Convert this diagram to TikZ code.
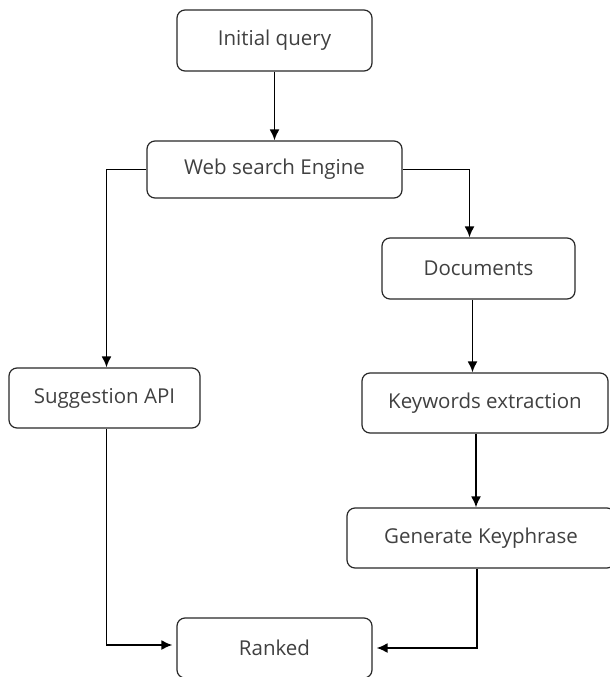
\documentclass[tikz,border=0pt]{standalone}
\usepackage{fontspec}
\setmainfont{Open Sans}
\definecolor{flowtext}{RGB}{64,64,64}
\definecolor{flowline}{RGB}{40,40,40}
\usetikzlibrary{shapes,arrows,arrows.meta,positioning,calc}

\begin{document}
\begin{tikzpicture}[x=1pt, y=-1pt,
    box/.style={draw=flowline, line width=1.2pt, rounded corners=8pt, inner sep=0pt,
                text=flowtext, font=\fontsize{20.5}{24}\selectfont},
    flow/.style={draw=black, line width=1.8pt, -{Latex[length=11pt,width=10pt]}}]
            \useasboundingbox (0,0) rectangle (610,677);

            % Boxes
            \node[box, minimum width=195pt, minimum height=61pt] (init) at (274.5,40.5) {Initial query};
            \node[box, minimum width=255pt, minimum height=57pt] (web) at (274.5,169.5) {Web search Engine};
            \node[box, minimum width=193pt, minimum height=61pt] (docs) at (478.5,268.5) {Documents};
            \node[box, minimum width=191pt, minimum height=60pt] (sugg) at (104.5,398) {Suggestion API};
            \node[box, minimum width=246pt, minimum height=60pt] (kw) at (485,403) {Keywords extraction};
            \node[box, minimum width=268pt, minimum height=60pt] (gen) at (481,538) {Generate Keyphrase};
            \node[box, minimum width=195pt, minimum height=60pt] (ranked) at (274.5,648) {Ranked};

            % Connectors
            \draw[flow] (init.south) -- (web.north);
            \draw[flow] (web.west) -| ([xshift=2pt]sugg.north);
            \draw[flow] (web.east) -| ([xshift=-9pt]docs.north);
            \draw[flow] ([xshift=-6pt]docs.south) -- ([xshift=-6pt]docs.south |- kw.north);
            \draw[flow] ([xshift=-9pt]kw.south) -- ([xshift=-9pt]kw.south |- gen.north);
            \draw[flow, shorten >=4pt] ([xshift=2pt]sugg.south) |- ([yshift=3pt]ranked.west);
            \draw[flow, shorten >=4pt] ([xshift=-4pt]gen.south) |- (ranked.east);
\end{tikzpicture}
\end{document}
